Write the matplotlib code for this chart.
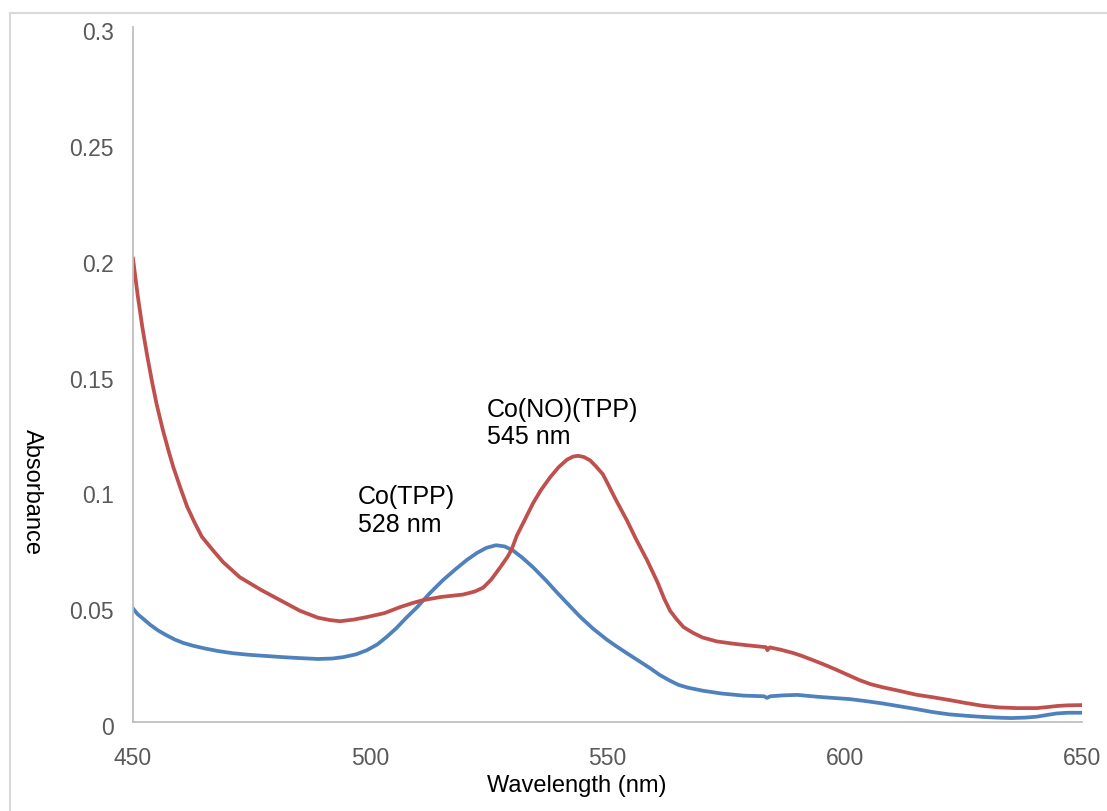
import matplotlib
matplotlib.use("Agg")
import matplotlib.pyplot as plt
from matplotlib.lines import Line2D
from matplotlib.transforms import ScaledTranslation

plt.rcParams['font.family'] = ['Liberation Sans', 'DejaVu Sans']

# Co(TPP) spectrum (blue)
wl_co = [450.0, 451.0, 452.3, 453.6, 455.3, 457.0, 458.8, 460.5, 462.5, 465.0,
         468.0, 471.0, 474.5, 478.0, 481.5, 485.0, 489.0, 492.0, 494.3, 497.0,
         499.3, 501.5, 503.5, 505.5, 507.5, 509.9, 512.5, 515.3, 518.0, 520.4,
         522.5, 524.5, 526.5, 528.3, 530.1, 532.0, 534.3, 537.0, 539.4, 542.0,
         544.2, 547.0, 549.9, 552.0, 554.0, 556.5, 559.0, 561.0, 563.2, 565.0,
         567.0, 570.1, 574.0, 578.6, 583.0, 583.6, 584.3, 587.0, 590.0, 594.2,
         597.5, 601.0, 604.5, 608.0, 611.5, 615.0, 618.5, 622.0, 625.5, 629.0,
         632.0, 635.0, 638.0, 640.5, 642.5, 644.7, 647.0, 650.0]
abs_co = [0.0490, 0.0465, 0.0443, 0.0420, 0.0395, 0.0375, 0.0356, 0.0342, 0.0330, 0.0318,
          0.0306, 0.0297, 0.0290, 0.0285, 0.0280, 0.0276, 0.0272, 0.0274, 0.0280, 0.0292,
          0.0310, 0.0335, 0.0368, 0.0405, 0.0448, 0.0496, 0.0555, 0.0612, 0.0660, 0.0700,
          0.0730, 0.0752, 0.0763, 0.0758, 0.0740, 0.0710, 0.0668, 0.0612, 0.0558, 0.0502,
          0.0455, 0.0402, 0.0355, 0.0325, 0.0298, 0.0265, 0.0232, 0.0203, 0.0178, 0.0160,
          0.0148, 0.0135, 0.0123, 0.0114, 0.0111, 0.0104, 0.0111, 0.0115, 0.0117, 0.0109,
          0.0104, 0.0099, 0.0090, 0.0080, 0.0068, 0.0056, 0.0043, 0.0033, 0.0027, 0.0022,
          0.0019, 0.0017, 0.0019, 0.0023, 0.0030, 0.0037, 0.0040, 0.0040]

# Co(NO)(TPP) spectrum (red)
wl_cono = [450.0, 450.5, 451.0, 452.0, 453.0, 454.0, 455.0, 456.3, 457.5, 458.5,
           460.0, 461.4, 463.0, 464.5, 466.9, 469.0, 472.5, 477.0, 481.0, 485.2,
           489.0, 491.5, 493.6, 496.5, 499.3, 503.0, 506.3, 509.0, 511.1, 515.0,
           519.5, 522.0, 523.8, 525.5, 527.3, 529.0, 529.8, 530.9, 532.5, 534.3,
           536.0, 537.9, 539.7, 541.5, 542.8, 543.8, 545.0, 546.3, 547.5, 549.0,
           549.9, 551.0, 552.0, 554.1, 556.0, 558.3, 560.5, 562.0, 563.2, 564.5,
           566.0, 568.0, 570.0, 573.0, 576.5, 580.0, 583.4, 583.7, 584.2, 586.5,
           589.1, 591.0, 593.3, 596.0, 598.4, 601.0, 603.2, 605.5, 608.0, 611.6,
           615.0, 618.5, 622.0, 625.5, 629.0, 632.5, 636.3, 640.5, 643.0, 644.7,
           647.0, 650.0]
abs_cono = [0.2000, 0.1920, 0.1840, 0.1700, 0.1580, 0.1470, 0.1370, 0.1260, 0.1170, 0.1100,
            0.1010, 0.0930, 0.0860, 0.0800, 0.0740, 0.0690, 0.0625, 0.0570, 0.0526, 0.0480,
            0.0450, 0.0440, 0.0435, 0.0442, 0.0453, 0.0470, 0.0496, 0.0514, 0.0526, 0.0540,
            0.0550, 0.0563, 0.0580, 0.0615, 0.0665, 0.0715, 0.0745, 0.0805, 0.0870, 0.0944,
            0.1002, 0.1056, 0.1100, 0.1133, 0.1146, 0.1149, 0.1144, 0.1130, 0.1105, 0.1070,
            0.1035, 0.0990, 0.0950, 0.0870, 0.0790, 0.0700, 0.0605, 0.0530, 0.0480, 0.0445,
            0.0410, 0.0385, 0.0365, 0.0348, 0.0338, 0.0330, 0.0323, 0.0310, 0.0322, 0.0312,
            0.0298, 0.0285, 0.0267, 0.0245, 0.0224, 0.0200, 0.0180, 0.0163, 0.0150, 0.0134,
            0.0118, 0.0107, 0.0095, 0.0082, 0.0070, 0.0063, 0.0060, 0.0060, 0.0065, 0.0069,
            0.0072, 0.0073]

x_ticks = [450, 500, 550, 600, 650]
y_ticks = [0, 0.05, 0.1, 0.15, 0.2, 0.25, 0.3]
y_tick_labels = ['0', '0.05', '0.1', '0.15', '0.2', '0.25', '0.3']

W, H = 1107, 811
fig = plt.figure(figsize=(W / 100, H / 100), dpi=100)
ax = fig.add_axes([133 / W, 1 - 722 / H, (1082 - 133) / W, (722 - 27) / H])

ax.plot(wl_co, abs_co, color='#4f81bd', lw=2.7, solid_joinstyle='round')
ax.plot(wl_cono, abs_cono, color='#c0504d', lw=2.7, solid_joinstyle='round')

ax.set_xlim(450, 650)
ax.set_ylim(0, 0.3)
ax.set_xticks(x_ticks)
ax.set_yticks(y_ticks)
ax.set_yticklabels(y_tick_labels)
ax.tick_params(length=0, labelsize=16.5, labelcolor='#595959')
ax.tick_params(axis='y', pad=14)
ax.tick_params(axis='x', pad=18)

# Excel draws the y labels a few pixels below their gridline level
shift = ScaledTranslation(0, -4 / 100, fig.dpi_scale_trans)
for lab in ax.get_yticklabels():
    lab.set_transform(lab.get_transform() + shift)

for side in ['top', 'right']:
    ax.spines[side].set_visible(False)
for side in ['left', 'bottom']:
    ax.spines[side].set_color('#bfbfbf')
    ax.spines[side].set_linewidth(1.3)

# peak annotations
ax.text(497.4, 0.1022, 'Co(TPP)\n528 nm', fontsize=18, va='top', ha='left')
ax.text(524.6, 0.1400, 'Co(NO)(TPP)\n545 nm', fontsize=18, va='top', ha='left')

fig.text(577 / W, 1 - 786 / H, 'Wavelength (nm)', fontsize=17,
         ha='center', va='center')
fig.text(32 / W, 1 - 492 / H, 'Absorbance', fontsize=17, rotation=-90,
         ha='center', va='center')

# chart area border (runs off the right and bottom edges)
fig.add_artist(Line2D([10 / W, 10 / W], [1 - 13 / H, -0.01], color='#d9d9d9',
                      lw=1.5, transform=fig.transFigure))
fig.add_artist(Line2D([10 / W, 1.01], [1 - 13 / H, 1 - 13 / H], color='#d9d9d9',
                      lw=1.5, transform=fig.transFigure))

fig.savefig('out.png', dpi=100, facecolor='white')
